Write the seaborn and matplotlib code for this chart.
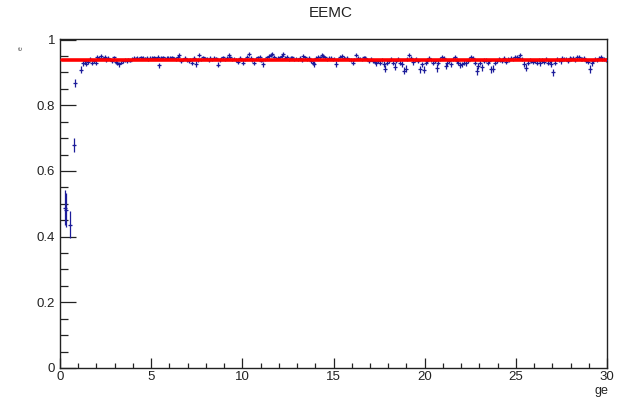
import numpy as np
import pandas as pd
import matplotlib
matplotlib.use("Agg")
import matplotlib.pyplot as plt
import seaborn as sns
from matplotlib.ticker import MultipleLocator

nan = np.nan

# Efficiency per 0.1-wide bin of "ge" (rows = one unit of ge, 10 bins each)
eff = [
    [nan, nan, 0.488, 0.482, nan, 0.437, nan, 0.679, 0.867, nan],
    [nan, 0.909, 0.928, 0.934, 0.926, 0.932, 0.940, 0.930, 0.936, 0.928],
    [0.946, 0.944, 0.950, 0.943, 0.947, 0.938, 0.944, 0.940, 0.935, 0.946],
    [0.932, 0.928, 0.925, 0.930, 0.935, 0.938, 0.934, 0.940, 0.936, 0.942],
    [0.944, 0.943, 0.945, 0.942, 0.946, 0.944, 0.943, 0.945, 0.940, 0.944],
    [0.945, 0.946, 0.943, 0.948, 0.922, 0.944, 0.946, 0.942, 0.944, 0.945],
    [0.944, 0.946, 0.943, 0.941, 0.947, 0.952, 0.935, 0.940, 0.944, 0.938],
    [0.936, 0.940, 0.930, 0.945, 0.926, 0.938, 0.952, 0.940, 0.946, 0.943],
    [0.942, 0.938, 0.944, 0.940, 0.945, 0.943, 0.924, 0.938, 0.942, 0.946],
    [0.940, 0.944, 0.952, 0.946, 0.940, 0.942, 0.938, 0.932, 0.944, 0.940],
    [0.930, 0.940, 0.948, 0.956, 0.944, 0.938, 0.930, 0.942, 0.946, 0.948],
    [0.936, 0.925, 0.940, 0.946, 0.950, 0.954, 0.956, 0.948, 0.942, 0.944],
    [0.946, 0.950, 0.955, 0.944, 0.948, 0.940, 0.944, 0.946, 0.940, 0.942],
    [0.940, 0.944, 0.938, 0.950, 0.946, 0.940, 0.944, 0.936, 0.930, 0.926],
    [0.944, 0.948, 0.946, 0.952, 0.950, 0.946, 0.940, 0.945, 0.944, 0.940],
    [0.942, 0.926, 0.940, 0.948, 0.950, 0.944, 0.942, 0.945, 0.940, 0.938],
    [0.930, 0.940, 0.952, 0.944, 0.942, 0.940, 0.946, 0.944, 0.940, 0.936],
    [0.940, 0.936, 0.932, 0.928, 0.935, 0.930, 0.938, 0.925, 0.912, 0.930],
    [0.935, 0.940, 0.930, 0.918, 0.935, 0.940, 0.930, 0.925, 0.906, 0.912],
    [0.940, 0.952, 0.944, 0.932, 0.938, 0.942, 0.935, 0.910, 0.925, 0.908],
    [0.930, 0.936, 0.944, 0.938, 0.930, 0.935, 0.914, 0.930, 0.940, 0.946],
    [0.944, 0.920, 0.928, 0.935, 0.925, 0.940, 0.946, 0.936, 0.930, 0.922],
    [0.925, 0.930, 0.928, 0.935, 0.940, 0.948, 0.944, 0.930, 0.905, 0.920],
    [0.930, 0.916, 0.936, 0.938, 0.930, 0.935, 0.910, 0.912, 0.930, 0.935],
    [0.940, 0.938, 0.935, 0.944, 0.932, 0.940, 0.938, 0.945, 0.942, 0.948],
    [0.946, 0.944, 0.952, 0.940, 0.925, 0.915, 0.930, 0.938, 0.935, 0.932],
    [0.935, 0.930, 0.938, 0.928, 0.936, 0.932, 0.940, 0.930, 0.935, 0.926],
    [0.900, 0.930, 0.940, 0.938, 0.934, 0.944, 0.940, 0.942, 0.936, 0.945],
    [0.940, 0.944, 0.938, 0.946, 0.948, 0.942, 0.940, 0.944, 0.935, 0.932],
    [0.910, 0.928, 0.935, 0.940, 0.938, 0.944, 0.946, 0.940, 0.942, 0.938],
]

# Statistical uncertainty of each bin (same layout)
err = [
    [nan, nan, 0.053, 0.052, nan, 0.042, nan, 0.020, 0.012, nan],
    [nan, 0.010, 0.008, 0.007, 0.007, 0.007, 0.006, 0.006, 0.006, 0.006],
    [0.006, 0.005, 0.005, 0.005, 0.005, 0.005, 0.005, 0.005, 0.005, 0.005],
    [0.006, 0.006, 0.007, 0.005, 0.005, 0.005, 0.005, 0.005, 0.005, 0.005],
    [0.005, 0.004, 0.005, 0.005, 0.005, 0.005, 0.004, 0.005, 0.005, 0.005],
    [0.005, 0.005, 0.005, 0.005, 0.008, 0.005, 0.005, 0.005, 0.005, 0.005],
    [0.005, 0.005, 0.005, 0.005, 0.005, 0.006, 0.006, 0.005, 0.005, 0.005],
    [0.006, 0.005, 0.006, 0.005, 0.008, 0.005, 0.006, 0.005, 0.005, 0.005],
    [0.005, 0.005, 0.005, 0.005, 0.005, 0.005, 0.008, 0.005, 0.005, 0.005],
    [0.005, 0.005, 0.006, 0.005, 0.005, 0.005, 0.005, 0.006, 0.005, 0.005],
    [0.007, 0.005, 0.005, 0.006, 0.005, 0.005, 0.006, 0.005, 0.005, 0.005],
    [0.005, 0.008, 0.005, 0.005, 0.005, 0.006, 0.006, 0.005, 0.005, 0.005],
    [0.005, 0.005, 0.006, 0.005, 0.005, 0.005, 0.005, 0.005, 0.005, 0.005],
    [0.005, 0.005, 0.005, 0.006, 0.005, 0.005, 0.005, 0.006, 0.006, 0.008],
    [0.005, 0.005, 0.005, 0.006, 0.005, 0.005, 0.005, 0.005, 0.005, 0.005],
    [0.005, 0.008, 0.005, 0.005, 0.006, 0.005, 0.005, 0.005, 0.005, 0.006],
    [0.007, 0.005, 0.006, 0.005, 0.005, 0.005, 0.005, 0.005, 0.005, 0.006],
    [0.006, 0.006, 0.007, 0.008, 0.006, 0.007, 0.006, 0.009, 0.012, 0.008],
    [0.007, 0.006, 0.008, 0.010, 0.007, 0.006, 0.008, 0.009, 0.012, 0.011],
    [0.006, 0.006, 0.006, 0.008, 0.007, 0.006, 0.007, 0.011, 0.008, 0.011],
    [0.007, 0.007, 0.006, 0.006, 0.007, 0.007, 0.011, 0.007, 0.006, 0.006],
    [0.006, 0.010, 0.008, 0.007, 0.008, 0.006, 0.006, 0.007, 0.007, 0.009],
    [0.008, 0.007, 0.008, 0.007, 0.006, 0.006, 0.006, 0.007, 0.012, 0.009],
    [0.008, 0.010, 0.007, 0.007, 0.007, 0.007, 0.011, 0.011, 0.007, 0.007],
    [0.006, 0.006, 0.007, 0.006, 0.007, 0.006, 0.006, 0.006, 0.006, 0.006],
    [0.006, 0.006, 0.006, 0.006, 0.009, 0.011, 0.008, 0.007, 0.007, 0.007],
    [0.007, 0.007, 0.007, 0.008, 0.007, 0.007, 0.006, 0.007, 0.007, 0.008],
    [0.012, 0.007, 0.006, 0.006, 0.007, 0.006, 0.006, 0.006, 0.007, 0.006],
    [0.006, 0.006, 0.006, 0.006, 0.006, 0.006, 0.006, 0.006, 0.007, 0.007],
    [0.012, 0.008, 0.007, 0.006, 0.006, 0.006, 0.006, 0.006, 0.006, 0.007],
]

bin_width = 0.1
x_range = [0.0, 30.0]
fit_x = [0.1, 30.0]
fit_y = [0.937, 0.937]
y_range = [0.0, 1.002]

x_ticks = [0, 5, 10, 15, 20, 25, 30]
y_ticks = [0, 0.2, 0.4, 0.6, 0.8, 1]
y_tick_labels = ["0", "0.2", "0.4", "0.6", "0.8", "1"]

eff_flat = np.array(eff, dtype=float).ravel()
err_flat = np.array(err, dtype=float).ravel()
centers = x_range[0] + bin_width * (np.arange(eff_flat.size) + 0.5)

df = pd.DataFrame({"ge": centers, "eff": eff_flat, "err": err_flat}).dropna()
fit_df = pd.DataFrame({"ge": fit_x, "eff": fit_y})

sns.set_style("white")
plt.rcParams["font.family"] = ["Liberation Sans", "DejaVu Sans"]

fig = plt.figure(figsize=(6.3, 3.98), dpi=100)
ax = fig.add_axes([60 / 630, 1 - 368 / 398, 547 / 630, 329 / 398])

blue = "#1c1c9a"
ax.errorbar(df["ge"], df["eff"], yerr=df["err"], xerr=bin_width / 2,
            fmt="none", ecolor=blue, elinewidth=0.9, capsize=0, zorder=2)
sns.scatterplot(data=df, x="ge", y="eff", marker="_", s=6, color=blue,
                linewidth=0.9, ax=ax, zorder=3)
sns.lineplot(data=fit_df, x="ge", y="eff", color="#ff0000", linewidth=2.6,
             ax=ax, zorder=4)

ax.set_xlim(*x_range)
ax.set_ylim(*y_range)
ax.set_xticks(x_ticks)
ax.set_xticklabels([str(t) for t in x_ticks])
ax.set_yticks(y_ticks)
ax.set_yticklabels(y_tick_labels)
ax.xaxis.set_minor_locator(MultipleLocator(1))
ax.yaxis.set_minor_locator(MultipleLocator(0.05))

ax.tick_params(bottom=True, left=True, top=False, right=False, which="both")
ax.tick_params(axis="x", which="major", direction="in", length=7.2, width=0.9,
               labelsize=9.5, pad=2.5, color="#222222", labelcolor="#222222")
ax.tick_params(axis="x", which="minor", direction="in", length=3.6, width=0.9,
               color="#222222")
ax.tick_params(axis="y", which="major", direction="in", length=11.5, width=0.9,
               labelsize=9.5, pad=3.5, color="#222222", labelcolor="#222222")
ax.tick_params(axis="y", which="minor", direction="in", length=6, width=0.9,
               color="#222222")

for side in ["left", "right", "top", "bottom"]:
    ax.spines[side].set_visible(True)
    ax.spines[side].set_linewidth(1.0)
    ax.spines[side].set_color("#222222")

ax.set_xlabel("")
ax.set_ylabel("")

fig.text(608 / 630, 1 - 391 / 398, "ge", ha="right", va="center",
         fontsize=9, color="#222222")
fig.text(331 / 630, 1 - 13 / 398, "EEMC", ha="center", va="center",
         fontsize=11, color="#222222")
fig.text(21 / 630, 1 - 48 / 398, "e", ha="center", va="center",
         fontsize=5, rotation=90, color="#555555")

fig.savefig("out.png", dpi=100)
